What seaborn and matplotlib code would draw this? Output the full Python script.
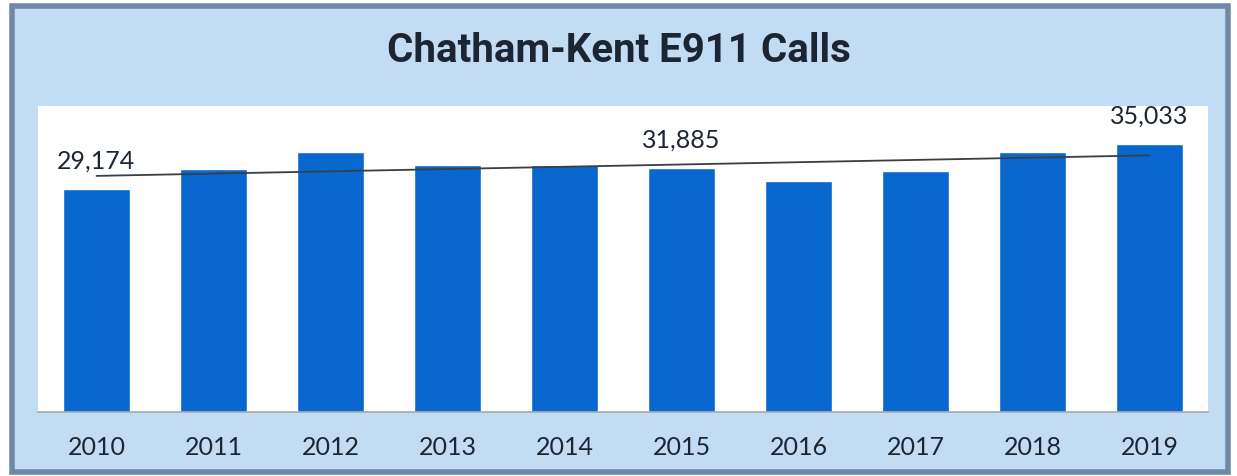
import numpy as np
import pandas as pd
import matplotlib
matplotlib.use("Agg")
import matplotlib.pyplot as plt
from matplotlib.patches import Rectangle
import seaborn as sns

# ---- data ----
years = ["2010", "2011", "2012", "2013", "2014", "2015", "2016", "2017", "2018", "2019"]
calls = [29174, 31760, 33980, 32280, 32280, 31885, 30190, 31500, 33980, 35033]
labelled_years = ["2010", "2015", "2019"]
title = "Chatham-Kent E911 Calls"

BG = "#C2DCF3"
BAR = "#0868CF"
TXT = "#1C2633"

sns.set_theme(style="white")
plt.rcParams["font.family"] = ["Lato", "DejaVu Sans"]

fig = plt.figure(figsize=(12.37, 4.76), dpi=100, facecolor="white")
# outer light-blue panel with frame
fig.patches.append(Rectangle((12 / 1237, 4 / 476), 1216 / 1237, 466 / 476,
                             transform=fig.transFigure, facecolor=BG,
                             edgecolor="#7088A8", linewidth=4, zorder=-5))

ax = fig.add_axes([38 / 1237, 1 - 412 / 476, 1170 / 1237, 306 / 476])
ax.set_zorder(2)
ax.set_facecolor("white")

df = pd.DataFrame({"year": years, "calls": calls})
sns.barplot(data=df, x="year", y="calls", color=BAR, saturation=1,
            width=0.565, ax=ax, zorder=2)

# linear trendline
xs = np.arange(len(calls))
m, b = np.polyfit(xs, calls, 1)
ax.plot([xs[0], xs[-1]], [m * xs[0] + b, m * xs[-1] + b], color="#3A3F47",
        linewidth=1.3, zorder=3)

for i, (yr, v) in enumerate(zip(years, calls)):
    if yr in labelled_years:
        ax.annotate(f"{v:,}", xy=(i, v), xytext=(0, 12), textcoords="offset points",
                    ha="center", va="bottom", fontsize=18, color=TXT)

ax.set_xlim(-0.5, len(years) - 0.5)
ax.set_ylim(0, 40000)
ax.set_xlabel("")
ax.set_ylabel("")
ax.set_yticks([])
ax.tick_params(axis="x", length=0, pad=17, labelsize=18, labelcolor=TXT)
for s in ["left", "right", "top"]:
    ax.spines[s].set_visible(False)
ax.spines["bottom"].set_color("#A8A8A8")
ax.spines["bottom"].set_linewidth(1.2)

fig.text(0.5, 1 - 51 / 476, title, ha="center", va="center", fontsize=29,
         fontweight="bold", color=TXT, family=["Roboto", "DejaVu Sans"], zorder=5)

fig.savefig("out.png", dpi=100, facecolor=fig.get_facecolor())
